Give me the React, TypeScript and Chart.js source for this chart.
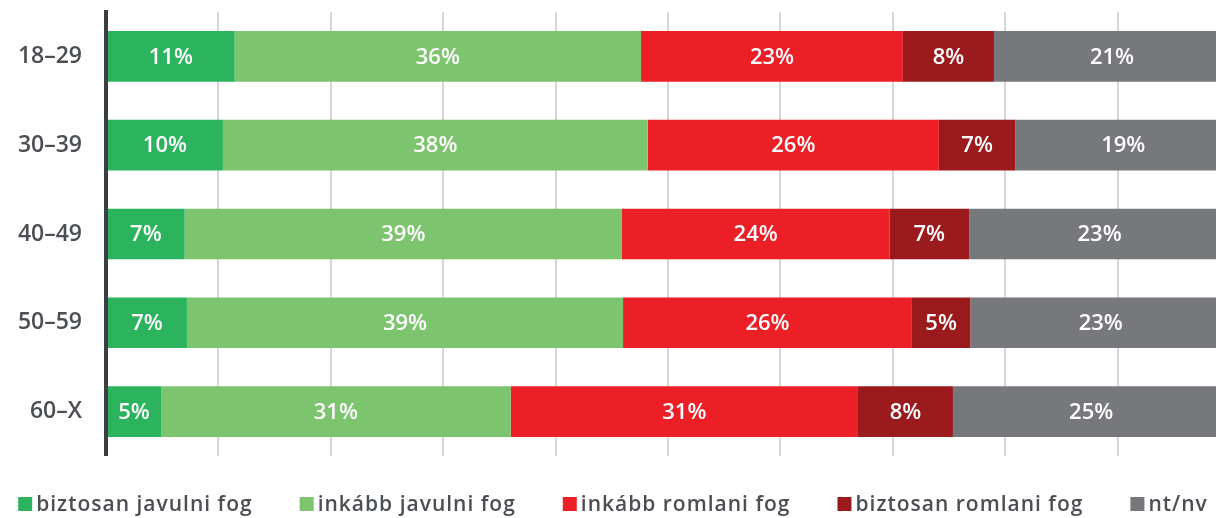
import React, { useEffect, useRef } from "react";
import { Chart, registerables } from "chart.js";

Chart.register(...registerables);

const categories = ["18–29", "30–39", "40–49", "50–59", "60–X"];
const seriesNames = [
  "biztosan javulni fog",
  "inkább javulni fog",
  "inkább romlani fog",
  "biztosan romlani fog",
  "nt/nv",
];
const seriesColors = ["#2bb35e", "#7dc46e", "#ec1f27", "#9a1a1e", "#76787b"];

const biztosanJavulni = [11.45, 10.4, 7.0, 7.2, 4.9];
const inkabbJavulni = [36.15, 37.8, 38.9, 38.8, 31.1];
const inkabbRomlani = [23.3, 25.9, 23.8, 25.7, 30.9];
const biztosanRomlani = [8.1, 6.8, 7.1, 5.2, 8.45];
const ntNv = [21.0, 19.2, 23.2, 23.2, 24.6];

const seriesValues = [biztosanJavulni, inkabbJavulni, inkabbRomlani, biztosanRomlani, ntNv];

const xTickStep = 10;
const xMax = 100;

const FONT = "'Open Sans', 'DejaVu Sans', sans-serif";
const TEXT_COLOR = "#4b4e52";

const barLabelPlugin = {
  id: "barLabels",
  afterDatasetsDraw(chart: any) {
    const ctx = chart.ctx;
    ctx.save();
    ctx.font = `600 22px ${FONT}`;
    ctx.fillStyle = "#ffffff";
    ctx.textAlign = "center";
    ctx.textBaseline = "middle";
    chart.data.datasets.forEach((ds: any, di: number) => {
      const meta = chart.getDatasetMeta(di);
      meta.data.forEach((bar: any, i: number) => {
        const v = ds.data[i];
        const cx = (bar.x + bar.base) / 2;
        ctx.fillText(`${Math.round(v)}%`, cx, bar.y + 1);
      });
    });
    ctx.restore();
  },
};

const legendPlugin = {
  id: "customLegend",
  afterDraw(chart: any) {
    const ctx = chart.ctx;
    ctx.save();
    ctx.font = `600 21px ${FONT}`;
    try {
      (ctx as any).letterSpacing = "1px";
    } catch (e) {}
    const box = 14;
    const gapText = 4;
    const gapItem = 47;
    const widths = seriesNames.map((n) => ctx.measureText(n).width);
    const total =
      widths.reduce((a, w) => a + box + gapText + w, 0) + gapItem * (seriesNames.length - 1);
    let x = 613 - total / 2;
    const boxTop = 497;
    const baseline = 511;
    seriesNames.forEach((n, i) => {
      ctx.fillStyle = seriesColors[i];
      ctx.fillRect(x, boxTop, box, box);
      ctx.fillStyle = TEXT_COLOR;
      ctx.textAlign = "left";
      ctx.textBaseline = "alphabetic";
      ctx.fillText(n, x + box + gapText, baseline);
      x += box + gapText + widths[i] + gapItem;
    });
    ctx.restore();
  },
};

export default function App() {
  const canvasRef = useRef<HTMLCanvasElement | null>(null);

  useEffect(() => {
    if (!canvasRef.current) return;
    const chart = new Chart(canvasRef.current, {
      type: "bar",
      data: {
        labels: categories,
        datasets: seriesNames.map((name, i) => ({
          label: name,
          data: seriesValues[i],
          backgroundColor: seriesColors[i],
          borderWidth: 0,
          barPercentage: 0.57,
          categoryPercentage: 1,
        })),
      },
      options: {
        indexAxis: "y",
        responsive: false,
        animation: false,
        layout: { padding: { top: 0, bottom: 62, left: 0, right: 0 } },
        plugins: {
          legend: { display: false },
          tooltip: { enabled: false },
        },
        scales: {
          x: {
            stacked: true,
            min: 0,
            max: xMax,
            ticks: { display: false, stepSize: xTickStep },
            grid: { color: "#d6d6d6", lineWidth: 2, drawTicks: false },
            border: { display: false },
          },
          y: {
            stacked: true,
            afterFit: (scale: any) => {
              scale.width = 106;
            },
            ticks: {
              color: TEXT_COLOR,
              font: { family: FONT, size: 23, weight: "600", lineHeight: 1.04 },
              padding: 0,
            },
            grid: { display: false, drawTicks: true, tickLength: 24 },
            border: { display: true, color: "#3b3e42", width: 4, z: 1 },
          },
        },
      },
      plugins: [barLabelPlugin, legendPlugin],
    } as any);
    return () => chart.destroy();
  }, []);

  return (
    <div
      style={{
        position: "fixed",
        left: 0,
        top: 0,
        width: 1216,
        height: 518,
        overflow: "hidden",
        background: "#ffffff",
      }}
    >
      <canvas ref={canvasRef} width={1230} height={518} style={{ display: "block" }} />
    </div>
  );
}
